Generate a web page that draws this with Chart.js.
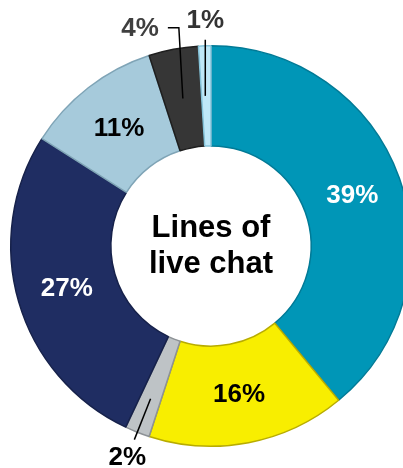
<!DOCTYPE html>
<html>
<head>
<meta charset="utf-8">
<script src="https://cdn.jsdelivr.net/npm/chart.js@4/dist/chart.umd.min.js"></script>
<style>
  html, body { margin: 0; padding: 0; background: #fff; overflow: hidden; }
  #wrap { width: 422px; height: 468px; }
</style>
</head>
<body>
<div id="wrap"><canvas id="myChart" width="422" height="468"></canvas></div>
<script>
// data, clockwise from 12 o'clock
var segLabels = ["A", "B", "C", "D", "E", "F", "G"];
var segValues = [39, 16, 2, 27, 11, 4, 1];
var segColors = ["#0096B7", "#F8EE00", "#BEC3C6", "#1F2D62", "#A6CADB", "#363636", "#BFE8F8"];
var segBorders = ["#007A96", "#B8AC00", "#8D9296", "#16214A", "#7FA4B6", "#1E1E1E", "#86C4DA"];
var pctText = ["39%", "16%", "2%", "27%", "11%", "4%", "1%"];
var pctColors = ["#ffffff", "#000000", "#000000", "#ffffff", "#000000", "#3f3f3f", "#333333"];
var centerLines = ["Lines of", "live chat"];

/* Plugin para desenhar as percentagens e o texto central */
var labelPlugin = {
  id: "pctLabels",
  afterDatasetsDraw: function(chart) {
    var ctx = chart.ctx;
    var arcs = chart.getDatasetMeta(0).data;
    ctx.save();
    ctx.font = "bold 26px 'Liberation Sans', Arial, sans-serif";
    ctx.textAlign = "center";
    ctx.textBaseline = "middle";
    arcs.forEach(function(arc, i) {
      var a = (arc.startAngle + arc.endAngle) / 2;
      var cx = arc.x, cy = arc.y;
      var rMid = (arc.innerRadius + arc.outerRadius) / 2;
      var px = function(r) { return cx + r * Math.cos(a); };
      var py = function(r) { return cy + r * Math.sin(a); };
      ctx.fillStyle = pctColors[i];
      ctx.strokeStyle = "#000";
      ctx.lineWidth = 1.5;
      if (segValues[i] >= 10) {
        ctx.fillText(pctText[i], px(rMid), py(rMid) + 1);
      } else if (i == 2) {
        // leader radial
        ctx.beginPath();
        ctx.moveTo(px(rMid + 14), py(rMid + 14));
        ctx.lineTo(px(arc.outerRadius + 8), py(arc.outerRadius + 8));
        ctx.stroke();
        ctx.fillText(pctText[i], px(arc.outerRadius + 27), py(arc.outerRadius + 27) + 1);
      } else if (i == 5) {
        var sx = px(rMid), sy = py(rMid);
        var ty = cy - arc.outerRadius - 18;
        ctx.beginPath();
        ctx.moveTo(sx, sy);
        ctx.lineTo(sx - 4, ty);
        ctx.lineTo(sx - 15, ty);
        ctx.stroke();
        ctx.textAlign = "right";
        ctx.fillText(pctText[i], sx - 24, ty + 1);
        ctx.textAlign = "center";
      } else {
        var sx2 = px(rMid), sy2 = py(rMid);
        var ty2 = cy - arc.outerRadius - 6;
        ctx.beginPath();
        ctx.moveTo(sx2 - 1, sy2);
        ctx.lineTo(sx2 - 1, ty2);
        ctx.stroke();
        ctx.fillText(pctText[i], sx2 - 1, ty2 - 19);
      }
    });
    // texto central
    var c = arcs[0];
    ctx.fillStyle = "#000";
    ctx.font = "bold 31px 'Liberation Sans', Arial, sans-serif";
    ctx.textBaseline = "alphabetic";
    ctx.fillText(centerLines[0], c.x, c.y - 9);
    ctx.fillText(centerLines[1], c.x, c.y + 27);
    ctx.restore();
  }
};

var chart = new Chart(document.getElementById("myChart"), {
  type: "doughnut",
  data: {
    labels: segLabels,
    datasets: [{
      data: segValues,
      backgroundColor: segColors,
      borderColor: segBorders,
      borderWidth: 1.5
    }]
  },
  options: {
    responsive: false,
    animation: false,
    cutout: "50%",
    rotation: 0,
    layout: { padding: { top: 45, bottom: 21, left: 10, right: 10 } },
    plugins: {
      legend: { display: false },
      tooltip: { enabled: false }
    }
  },
  plugins: [labelPlugin]
});
</script>
</body>
</html>
